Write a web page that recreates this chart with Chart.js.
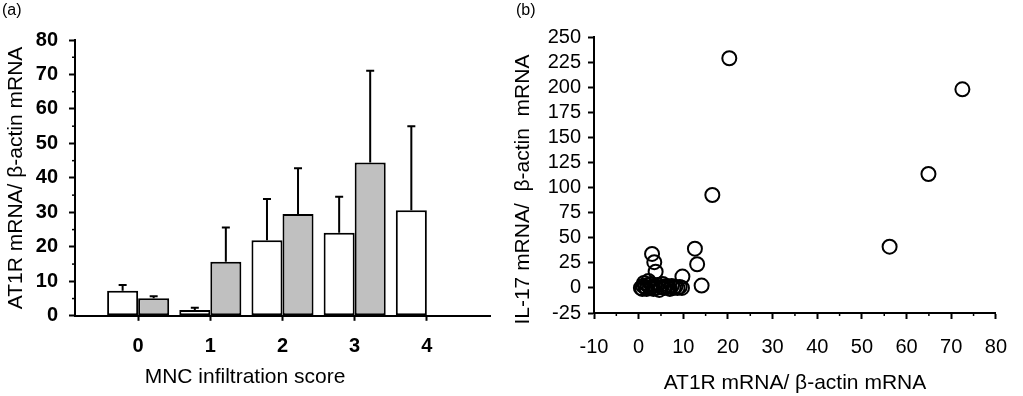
<!DOCTYPE html>
<html><head><meta charset="utf-8">
<script src="https://cdn.jsdelivr.net/npm/chart.js@4"></script>
<style>
html,body{margin:0;padding:0;background:#fff;}
#wrap{position:relative;width:1023px;height:396px;overflow:hidden;background:#fff;}
canvas{position:absolute;top:0;}
#c1{left:0;}
#c2{left:500px;}
.lbl{position:absolute;top:1px;font:16px "Liberation Sans",Arial,sans-serif;color:#000;}
</style></head>
<body>
<div id="wrap">
<canvas id="c1" width="506" height="396"></canvas>
<canvas id="c2" width="523" height="396"></canvas>
<div class="lbl" style="left:2px">(a)</div>
<div class="lbl" style="left:516px">(b)</div>
</div>
<script>
// ---- Panel (a) data ----
const scores = [0, 1, 2, 3, 4];
const whiteMeans = [7.3, 1.7, 21.9, 24.1, 30.6];
const whiteErr   = [1.6, 0.6, 12.0, 10.4, 24.4];
const grayMeans  = [5.1, 15.7, 29.5, 44.5, null];
const grayErr    = [0.6, 9.9, 13.3, 26.6, null];

// ---- Panel (b) data ----
const at1rX = [20.3, 72.5, 64.9, 56.2, 16.5, 12.6, 13.1, 14.1, 9.8, 3.0, 3.5, 3.8,
  0.5, 0.8, 1.0, 1.2, 1.5, 1.8, 2.0, 2.2, 2.5, 2.8, 3.0, 3.3, 3.6, 4.0, 4.3, 4.6,
  5.0, 5.4, 5.8, 6.2, 6.6, 7.0, 7.4, 7.8, 8.2, 8.7, 9.2, 9.7];
const il17Y = [228.8, 197.9, 113.5, 41.1, 92.6, 39.1, 23.6, 2.3, 11.3, 33.9, 25.6, 16.2,
  0, -1, 2, 5, 1, -1, 3, 7, 0, 4, 1, -1, 2, 0, 3, -2,
  1, 4, 0, 2, 1, -1, 2, 0, 1, 0, 1, 0];

const FONT = '"Liberation Sans", Arial, sans-serif';

const errorBars = {
  id: 'errorBars',
  afterDatasetsDraw(chart) {
    const ctx = chart.ctx, ys = chart.scales.y;
    chart.data.datasets.forEach((ds, di) => {
      if (!ds.errors) return;
      const meta = chart.getDatasetMeta(di);
      meta.data.forEach((el, i) => {
        const v = ds.data[i].y, e = ds.errors[i];
        if (v == null || e == null) return;
        const yTop = ys.getPixelForValue(v + e);
        ctx.save();
        ctx.strokeStyle = '#000'; ctx.lineWidth = 2;
        ctx.beginPath();
        ctx.moveTo(el.x, el.y); ctx.lineTo(el.x, yTop);
        ctx.moveTo(el.x - 4, yTop); ctx.lineTo(el.x + 4, yTop);
        ctx.stroke();
        ctx.restore();
      });
    });
  }
};

const minorTicks = {
  id: 'minorTicks',
  afterDraw(chart, args, opts) {
    const ctx = chart.ctx;
    const conf = (opts && opts.axes) || {};
    ctx.save();
    ctx.strokeStyle = '#000'; ctx.lineWidth = 1.5;
    Object.keys(conf).forEach(id => {
      const s = chart.scales[id], m = conf[id];
      if (!s) return;
      for (let v = s.min; v <= s.max + 1e-9; v += m.step) {
        if (Math.abs(Math.round(v / m.major) * m.major - v) < 1e-9) continue;
        const p = s.getPixelForValue(v);
        ctx.beginPath();
        if (s.isHorizontal()) { ctx.moveTo(p, s.top); ctx.lineTo(p, s.top + m.len); }
        else { ctx.moveTo(s.right, p); ctx.lineTo(s.right - m.len, p); }
        ctx.stroke();
      }
    });
    ctx.restore();
  }
};

new Chart(document.getElementById('c1'), {
  type: 'bar',
  data: {
    datasets: [
      { label: 'white', data: scores.map((s, i) => ({ x: s, y: whiteMeans[i] })),
        backgroundColor: '#ffffff', borderColor: '#000', borderWidth: 2, borderSkipped: false, errors: whiteErr },
      { label: 'gray', data: scores.map((s, i) => ({ x: s, y: grayMeans[i] })),
        backgroundColor: '#c0c0c0', borderColor: '#000', borderWidth: 2, borderSkipped: false, errors: grayErr }
    ]
  },
  options: {
    responsive: false, animation: false,
    layout: { padding: { top: 40, right: 16, left: 0, bottom: 0 } },
    datasets: { bar: { barPercentage: 1, categoryPercentage: 0.86 } },
    plugins: {
      legend: { display: false }, tooltip: { enabled: false },
      title: { display: true, position: 'bottom', text: 'MNC infiltration score',
        font: { family: FONT, size: 21, weight: 'normal' }, color: '#000', padding: { top: 0, bottom: 6 } },
      minorTicks: { axes: { y: { step: 5, major: 10, len: 3 } } }
    },
    scales: {
      x: {
        type: 'linear', min: -0.875, max: 4.875, offset: false,
        grid: { display: true, offset: false, drawOnChartArea: false, drawTicks: true, tickLength: 5, color: '#000', tickColor: '#000', tickWidth: 2 },
        border: { display: true, color: '#000', width: 2 },
        ticks: { stepSize: 1, includeBounds: false, autoSkip: false, color: '#000', padding: 14,
          font: { family: FONT, size: 20, weight: 'bold' } },
        afterFit(s) { s.height = 49; }
      },
      y: {
        min: 0, max: 80,
        grid: { display: true, drawOnChartArea: false, drawTicks: true, tickLength: 6, color: '#000', tickColor: '#000', tickWidth: 2 },
        border: { display: true, color: '#000', width: 2 },
        ticks: { stepSize: 10, autoSkip: false, color: '#000', padding: 11, font: { family: FONT, size: 20, weight: 'bold' } },
        title: { display: true, text: 'AT1R mRNA/ β-actin mRNA', color: '#000',
          font: { family: FONT, size: 21, weight: 'normal' }, padding: { top: 4, bottom: 0 } },
        afterFit(s) { s.width = 75; }
      }
    }
  },
  plugins: [errorBars, minorTicks]
});

new Chart(document.getElementById('c2'), {
  type: 'scatter',
  data: {
    datasets: [{
      data: at1rX.map((x, i) => ({ x: x, y: il17Y[i] })),
      pointStyle: 'circle', pointRadius: 7, pointBorderWidth: 2,
      borderColor: '#000', backgroundColor: 'rgba(0,0,0,0)', showLine: false, clip: false
    }]
  },
  options: {
    responsive: false, animation: false,
    layout: { padding: { top: 37, right: 12, left: 0, bottom: 0 } },
    plugins: {
      legend: { display: false }, tooltip: { enabled: false },
      minorTicks: { axes: { x: { step: 5, major: 10, len: 3 } } }
    },
    scales: {
      x: {
        type: 'linear', min: -10, max: 80,
        grid: { display: true, drawOnChartArea: false, drawTicks: true, tickLength: 6, color: '#000', tickColor: '#000', tickWidth: 2 },
        border: { display: true, color: '#000', width: 2 },
        ticks: { stepSize: 10, autoSkip: false, maxRotation: 0, color: '#000', padding: 16, font: { family: FONT, size: 20 } },
        title: { display: true, text: 'AT1R mRNA/ β-actin mRNA', color: '#000',
          font: { family: FONT, size: 21, weight: 'normal' }, padding: { top: 6, bottom: 0 } },
        afterFit(s) { s.height = 83; }
      },
      y: {
        type: 'linear', min: -25, max: 250,
        grid: { display: true, drawOnChartArea: false, drawTicks: true, tickLength: 6, color: '#000', tickColor: '#000', tickWidth: 2 },
        border: { display: true, color: '#000', width: 2 },
        ticks: { stepSize: 25, autoSkip: false, color: '#000', padding: 7, font: { family: FONT, size: 20 } },
        title: { display: true, text: 'IL-17 mRNA/  β-actin  mRNA     ', color: '#000',
          font: { family: FONT, size: 21, weight: 'normal' }, padding: { top: 11, bottom: 0 } },
        afterFit(s) { s.width = 94; }
      }
    }
  },
  plugins: [minorTicks]
});
</script>
</body></html>
